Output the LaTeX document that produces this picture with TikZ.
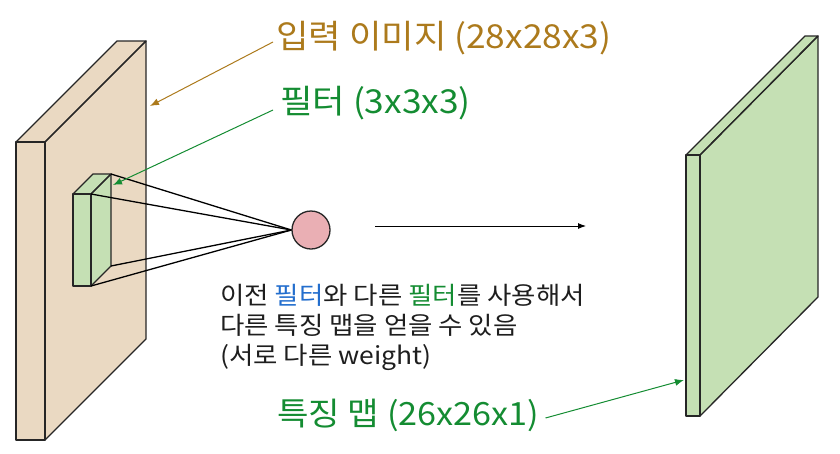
\documentclass[tikz,border=0pt]{standalone}
\usepackage{fontspec}
\newfontfamily\kr[FakeStretch=1.07]{Noto Sans CJK KR}
\newfontfamily\krb[FakeStretch=1.08]{Noto Sans CJK KR}
\usetikzlibrary{arrows.meta}
\definecolor{beige}{RGB}{234,217,194}
\definecolor{mint}{RGB}{197,224,180}
\definecolor{pinkc}{RGB}{234,175,180}
\definecolor{gold}{RGB}{172,122,28}
\definecolor{kgreen}{RGB}{20,140,50}
\definecolor{kblue}{RGB}{35,110,205}
\definecolor{ktext}{RGB}{30,30,30}
\tikzset{
  face/.style={draw=black!85, line width=1.3pt, line join=round},
  lbl/.style={inner sep=0pt, anchor=west, font=\kr\fontsize{33}{36}\selectfont},
  body/.style={inner sep=0pt, anchor=west, align=left, text=ktext, font=\krb\fontsize{24.5}{30}\selectfont},
  pointer/.style={-{Latex[length=9pt,width=7pt]}, line width=1pt},
}
\begin{document}
\begin{tikzpicture}[x=1pt,y=-1pt]
\useasboundingbox (0,0) rectangle (840,453);
% input volume
\coordinate (iA) at (16,142); \coordinate (iB) at (45,142);
\coordinate (iC) at (146,41); \coordinate (iD) at (117,41);
\coordinate (iE) at (146,339); \coordinate (iF) at (45,440); \coordinate (iG) at (16,440);
\fill[beige] (iA) -- (iD) -- (iC) -- (iE) -- (iF) -- (iG) -- cycle;
\draw[face] (iA) -- (iB) -- (iC) -- (iD) -- cycle;
\draw[face] (iB) -- (iC) -- (iE) -- (iF) -- cycle;
\draw[face] (iA) -- (iB) -- (iF) -- (iG) -- cycle;
\coordinate (iHit) at (150,106);
% filter
\coordinate (fA) at (73,194); \coordinate (fB) at (91,194);
\coordinate (fC) at (111,174); \coordinate (fD) at (93,174);
\coordinate (fE) at (111,266); \coordinate (fF) at (91,286); \coordinate (fG) at (73,286);
\fill[mint] (fA) -- (fD) -- (fC) -- (fE) -- (fF) -- (fG) -- cycle;
\draw[face] (fA) -- (fB) -- (fC) -- (fD) -- cycle;
\draw[face] (fB) -- (fC) -- (fE) -- (fF) -- cycle;
\draw[face] (fA) -- (fB) -- (fF) -- (fG) -- cycle;
\coordinate (fHit) at (113,185);
% neuron
\node (n) [circle, draw=black!85, line width=1.3pt, fill=pinkc, minimum size=38pt, inner sep=0pt] at (311,230) {};
\foreach \p in {fC,fB,fE,fF} \draw[line width=1.3pt] (n.west) -- (\p);
% output map
\coordinate (oA) at (686,155); \coordinate (oB) at (700,155);
\coordinate (oC) at (818,36); \coordinate (oD) at (805,36);
\coordinate (oE) at (818,297); \coordinate (oF) at (700,416); \coordinate (oG) at (686,416);
\fill[mint] (oA) -- (oD) -- (oC) -- (oE) -- (oF) -- (oG) -- cycle;
\draw[face] (oA) -- (oB) -- (oC) -- (oD) -- cycle;
\draw[face] (oB) -- (oC) -- (oE) -- (oF) -- cycle;
\draw[face] (oA) -- (oB) -- (oF) -- (oG) -- cycle;
\coordinate (oHit) at (684,380);
% arrow
\coordinate (arS) at (375,226); \coordinate (arE) at (586,226);
\draw[-{Latex[length=8pt,width=6pt]}, line width=0.9pt] (arS) -- (arE);
% labels
\node (t1) [lbl, text=gold] at (276,38) {입력 이미지 (28x28x3)};
\node (t2) [lbl, text=kgreen] at (280,103) {필터 (3x3x3)};
\node (t3) [lbl, text=kgreen, font=\kr\fontsize{32}{36}\selectfont] at (277,415) {특징 맵 (26x26x1)};
\draw[pointer, draw=gold] (t1.west) ++(-3,4) coordinate (t1s) -- (iHit);
\draw[pointer, draw=kgreen] (t2.west) ++(-7,7) coordinate (t2s) -- (fHit);
\draw[pointer, draw=kgreen] (t3.east) ++(6,3) coordinate (t3s) -- (oHit);
\node (body) [body] at (220,327) {이전 \textcolor{kblue}{필터}와 다른 \textcolor{kgreen}{필터}를 사용해서\\다른 특징 맵을 얻을 수 있음\\(서로 다른 weight)};
\end{tikzpicture}
\end{document}
